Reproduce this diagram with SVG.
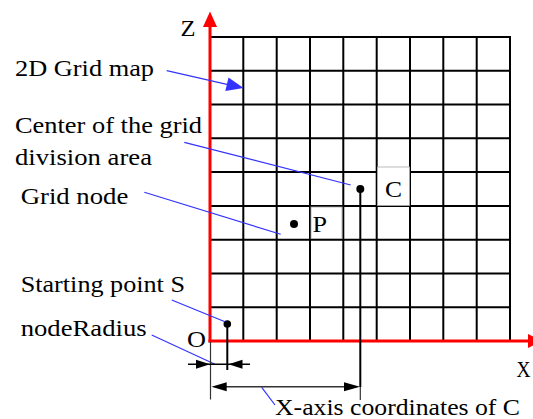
<svg xmlns="http://www.w3.org/2000/svg" width="533" height="419" viewBox="0 0 533 419">
<style>
.t{font-family:"Liberation Serif","DejaVu Serif","Noto Serif",serif;font-size:23px;fill:#000}
.g{stroke:#000;stroke-width:2;fill:none}
.ax{stroke:#ff0000;stroke-width:3;fill:none}
.ld{stroke:#3333ff;stroke-width:1.2;fill:none}
.dim{stroke:#333;stroke-width:1.2;fill:none}
.bx{fill:#fff;stroke:#aaa;stroke-width:0.8}
</style>
<rect width="533" height="419" fill="#fff"/>
<g id="grid">
<path class="g" d="M243.3 37V341M276.7 37V341M310 37V341M343.3 37V341M376.7 37V341M410 37V341M443.3 37V341M476.7 37V341M510 37V341"/>
<path class="g" d="M210 37H511M210 70.8H511M210 104.6H511M210 138.3H511M210 172.1H511M210 205.9H511M210 239.7H511M210 273.4H511M210 307.2H511"/>
</g>
<g id="labelC">
<rect class="bx" x="377.5" y="167" width="32" height="38.5"/>
<text class="t" x="385" y="197" textLength="17" lengthAdjust="spacingAndGlyphs">C</text>
</g>
<g id="labelP">
<rect class="bx" x="311" y="207" width="31" height="31.5"/>
<text class="t" x="312.5" y="232" textLength="14.5" lengthAdjust="spacingAndGlyphs">P</text>
</g>
<g id="axes">
<path class="ax" d="M210 342.5V26"/>
<polygon points="203,27 210,11.5 217,27" fill="#ff0000"/>
<path class="ax" d="M208.5 341H529"/>
<polygon points="528,334 542,341 528,348" fill="#ff0000"/>
<text class="t" x="180.5" y="36" textLength="15" lengthAdjust="spacingAndGlyphs">Z</text>
<text class="t" x="516.5" y="377" textLength="14" lengthAdjust="spacingAndGlyphs">X</text>
<text class="t" x="187" y="347" textLength="19" lengthAdjust="spacingAndGlyphs">O</text>
</g>
<g id="pointC">
<circle cx="360.3" cy="189" r="4"/>
<path class="g" d="M360.3 189V387"/>
<path class="dim" d="M360.3 387V400"/>
</g>
<g id="pointP">
<circle cx="294" cy="224" r="4"/>
</g>
<g id="pointS">
<circle cx="227.3" cy="324" r="3.8"/>
<path class="g" d="M227.3 324V370"/>
</g>
<g id="connectors">
<path class="ld" d="M166.7 70.7L228 84.6"/>
<polygon points="243.5,88 225.3,91 228.5,77.4" fill="#3333ff"/>
<path class="ld" d="M184.3 142.3L350.7 185"/>
<path class="ld" d="M144.3 192.3L280.7 234.3"/>
<path class="ld" d="M171.7 300L225 321.7"/>
<path class="ld" d="M151.7 335L215 364.3"/>
<path class="ld" d="M261.7 387.3L275 405"/>
<path class="dim" d="M210.5 342V399.5"/>
<path class="g" d="M188 364.3H250" style="stroke-width:1.5"/>
<polygon points="196,359.8 210,364.3 196,368.8"/>
<polygon points="242.5,359.8 228.5,364.3 242.5,368.8"/>
<path class="dim" d="M222 386.7H350" style="stroke-width:1.5"/>
<polygon points="226.7,382.2 211.5,386.7 226.7,391.2"/>
<polygon points="344,382.2 360,386.7 344,391.2"/>
</g>
<g id="texts">
<text class="t" x="15" y="76" textLength="139" lengthAdjust="spacingAndGlyphs">2D Grid map</text>
<text class="t" x="15" y="132.7" textLength="187" lengthAdjust="spacingAndGlyphs">Center of the grid</text>
<text class="t" x="15" y="165" textLength="137" lengthAdjust="spacingAndGlyphs">division area</text>
<text class="t" x="20.7" y="204" textLength="107.6" lengthAdjust="spacingAndGlyphs">Grid node</text>
<text class="t" x="20.7" y="291.7" textLength="164.3" lengthAdjust="spacingAndGlyphs">Starting point S</text>
<text class="t" x="20.7" y="335.7" textLength="126" lengthAdjust="spacingAndGlyphs">nodeRadius</text>
<text class="t" x="275" y="415" textLength="245" lengthAdjust="spacingAndGlyphs">X-axis coordinates of C</text>
</g>
</svg>
